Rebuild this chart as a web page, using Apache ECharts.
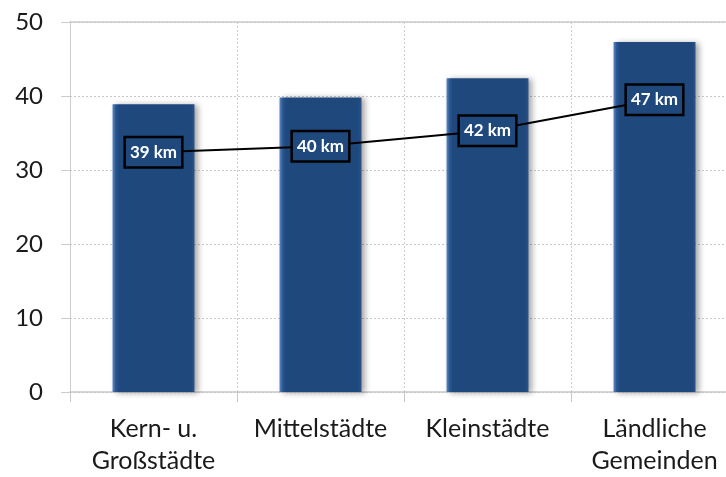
<!DOCTYPE html>
<html>
<head>
<meta charset="utf-8">
<script src="https://cdn.jsdelivr.net/npm/echarts@6/dist/echarts.min.js"></script>
<style>html,body{margin:0;padding:0;background:#fff}#c{width:726px;height:477px}</style>
</head>
<body>
<div id="c"></div>
<script>
const categories = ['Kern- u.\nGroßstädte', 'Mittelstädte', 'Kleinstädte', 'Ländliche\nGemeinden'];
const barValues = [38.9, 39.8, 42.4, 47.3];
const lineValues = [32.4, 33.2, 35.3, 39.5];
const lineLabels = ['39 km', '40 km', '42 km', '47 km'];
const yTicks = [0, 10, 20, 30, 40, 50];

const chart = echarts.init(document.getElementById('c'));
const font = 'Lato, "Open Sans", sans-serif';
chart.setOption({
  animation: false,
  grid: { left: 70, top: 22, bottom: 85, width: 668, outerBoundsMode: 'none', containLabel: false },
  xAxis: [{
    type: 'category',
    data: categories,
    boundaryGap: true,
    axisLine: { show: true, lineStyle: { color: '#c8c8c8', width: 1.5 } },
    axisTick: { show: true, length: 10, lineStyle: { color: '#c8c8c8' } },
    splitLine: { show: true, lineStyle: { color: '#cccccc', type: [2, 2] } },
    axisLabel: { color: '#1a1a1a', fontFamily: font, fontSize: 25, lineHeight: 32, margin: 21, interval: 0 }
  }, {
    type: 'category',
    position: 'top',
    data: categories,
    axisLine: { show: true, lineStyle: { color: '#cccccc', width: 1.5 } },
    axisTick: { show: false },
    axisLabel: { show: false }
  }],
  yAxis: {
    type: 'value',
    min: yTicks[0],
    max: yTicks[yTicks.length - 1],
    interval: 10,
    axisLine: { show: true, lineStyle: { color: '#cccccc', width: 1 } },
    axisTick: { show: true, length: 9, lineStyle: { color: '#cccccc' } },
    splitLine: { show: true, lineStyle: { color: '#c8c8c8', type: [2, 2] } },
    axisLabel: { color: '#1a1a1a', fontFamily: font, fontSize: 24, margin: 27 }
  },
  series: [{
    type: 'bar',
    data: barValues,
    barWidth: 82,
    itemStyle: {
      color: new echarts.graphic.LinearGradient(0, 0, 1, 0, [
        { offset: 0, color: '#5b89c4' },
        { offset: 0.04, color: '#2a5590' },
        { offset: 0.08, color: '#1f497d' },
        { offset: 0.96, color: '#1f497d' },
        { offset: 1, color: '#2c5388' }
      ]),
      shadowColor: 'rgba(0,0,0,0.35)',
      shadowBlur: 6,
      shadowOffsetX: 3,
      shadowOffsetY: 1
    }
  }, {
    type: 'line',
    data: lineValues,
    symbol: 'circle',
    symbolSize: 1,
    lineStyle: { color: '#000', width: 2 },
    itemStyle: { color: '#000' },
    z: 5,
    label: {
      show: true,
      position: 'inside',
      formatter: p => lineLabels[p.dataIndex],
      color: '#fff',
      fontFamily: font,
      fontWeight: 'bold',
      fontSize: 17,
      backgroundColor: '#1f497d',
      borderColor: '#000',
      borderWidth: 2.5,
      padding: [6, 4, 5, 4]
    }
  }]
});
</script>
</body>
</html>
